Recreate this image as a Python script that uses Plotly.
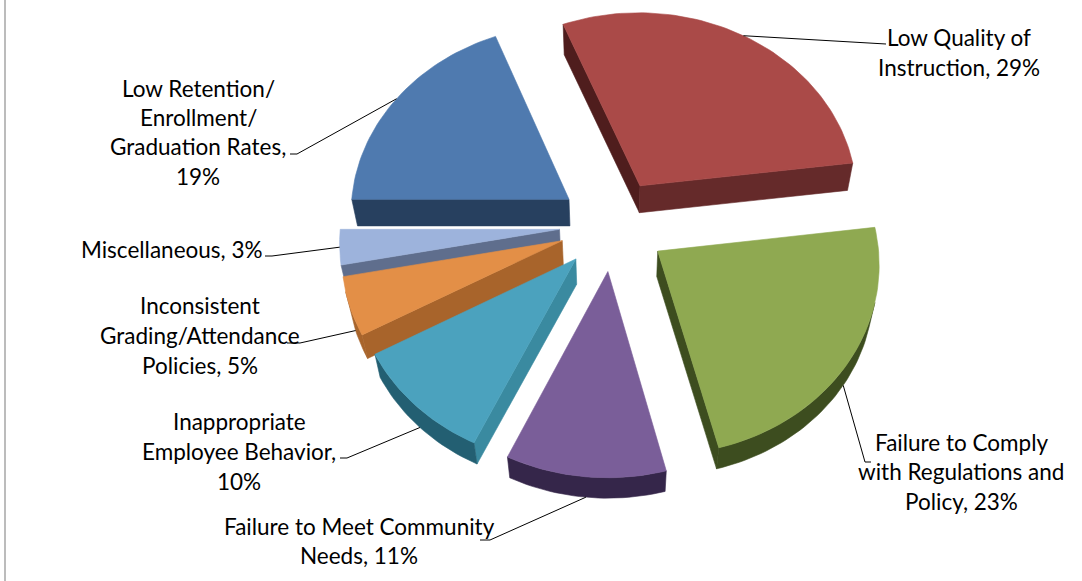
import math
import plotly.graph_objects as go

# Chart data
categories = ["Low Quality of Instruction", "Failure to Comply with Regulations and Policy",
              "Failure to Meet Community Needs", "Inappropriate Employee Behavior",
              "Inconsistent Grading/Attendance Policies", "Miscellaneous",
              "Low Retention/Enrollment/Graduation Rates"]
shares = [29, 23, 11, 10, 5, 3, 19]
label_lines = [
    ["Low Quality of", "Instruction, 29%"],
    ["Failure to Comply", "with Regulations and", "Policy, 23%"],
    ["Failure to Meet Community", "Needs, 11%"],
    ["Inappropriate", "Employee Behavior,", "10%"],
    ["Inconsistent", "Grading/Attendance", "Policies, 5%"],
    ["Miscellaneous, 3%"],
    ["Low Retention/", "Enrollment/", "Graduation Rates,", "19%"],
]

# Slice colours: top face, arc wall, wall on the slice's opening edge, wall on its closing edge
top_colors = ["#AA4A48", "#8FA951", "#7A5E99", "#4BA2BE", "#E38F47", "#9DB3DC", "#4F7AAF"]
arc_colors = ["#652A2A", "#3D4D1F", "#35264A", "#235F72", "#A8642B", "#5F6E8D", "#27405F"]
open_wall_colors = ["#4F1D1D", "#3D4D1F", "#35264A", "#3A8AA0", "#A8642B", "#5F6E8D", "#27405F"]
close_wall_colors = ["#652A2A", "#3D4D1F", "#35264A", "#235F72", "#A8642B", "#5F6E8D", "#27405F"]

# Projection of the tilted, exploded pie onto the page (pixel space)
first_angle = -21.6
explode = 0.245
center_x, center_y = 613, 225
radius_x, radius_y = 219, 188
perspective = 0.06
base_scale, base_drop = 0.978, 26

# Label centres and leader elbows in page pixels
label_x = [959, 961, 359, 239, 200, 172, 198]
label_y = [[37, 67], [442, 471, 501], [526, 555], [421, 451, 481], [305, 335, 365], [249], [88, 117, 146, 176]]
leader_elbows = [[(886, 44)], [(865, 462), (871, 462)], [(490, 540), (480, 540)],
                 [(347, 458), (340, 458)], [(300, 343), (287, 343)],
                 [(272, 256), (265, 256)], [(297, 154), (290, 154)]]
paint_order = [0, 6, 5, 4, 3, 2, 1]


def project_top(u, v):
    f = 1 / (1 + perspective * v)
    return center_x + radius_x * u * f, center_y - radius_y * v * f


def to_base(p):
    return (center_x + (p[0] - center_x) * base_scale,
            center_y + (p[1] - center_y) * base_scale + base_drop)


def polar(angle):
    a = math.radians(angle)
    return math.sin(a), math.cos(a)


def polygon(points, color):
    xs = [p[0] for p in points] + [points[0][0]]
    ys = [p[1] for p in points] + [points[0][1]]
    return go.Scatter(x=xs, y=ys, mode="lines", fill="toself", fillcolor=color,
                      line=dict(color=color, width=0.6), hoverinfo="skip", showlegend=False)


def facing_viewer(p, q):
    # The outline is walked clockwise, so a near wall has a negative signed area on screen
    pts = [p, q, to_base(q), to_base(p)]
    area = sum(pts[i][0] * pts[(i + 1) % 4][1] - pts[(i + 1) % 4][0] * pts[i][1] for i in range(4))
    return area < 0


def wall_runs(path):
    runs, run = [], []
    for p, q in zip(path, path[1:]):
        if facing_viewer(p, q):
            run = run or [p]
            run.append(q)
        elif run:
            runs.append(run)
            run = []
    if run:
        runs.append(run)
    return runs


# Angular extent of every slice, clockwise from the top
spans = []
start = first_angle
for share in shares:
    end = start + share * 3.6
    spans.append((start, end))
    start = end

fig = go.Figure()
leader_x, leader_y = [], []

for i in paint_order:
    a0, a1 = spans[i]
    mid = (a0 + a1) / 2
    off_u, off_v = polar(mid)
    off_u *= explode
    off_v *= explode
    apex = project_top(off_u, off_v)
    steps = max(6, int((a1 - a0) / 1.5))
    rim = []
    for k in range(steps + 1):
        su, sv = polar(a0 + (a1 - a0) * k / steps)
        rim.append(project_top(off_u + su, off_v + sv))

    # The outline runs apex -> rim start -> along the arc -> rim end -> apex
    for path, color in (([apex, rim[0]], open_wall_colors[i]),
                        (rim, arc_colors[i]),
                        ([rim[-1], apex], close_wall_colors[i])):
        for run in wall_runs(path):
            fig.add_trace(polygon(run + [to_base(p) for p in reversed(run)], color))
    fig.add_trace(polygon([apex] + rim, top_colors[i]))

    # Leader line leaves the rim at the slice's mid angle
    mu, mv = polar(mid)
    anchor = project_top(off_u + mu, off_v + mv)
    if off_v + mv < -0.3:
        anchor = to_base(anchor)
    path = [anchor] + leader_elbows[i]
    leader_x += [p[0] for p in path] + [None]
    leader_y += [p[1] for p in path] + [None]

fig.add_trace(go.Scatter(x=leader_x, y=leader_y, mode="lines",
                         line=dict(color="#000000", width=1),
                         hoverinfo="skip", showlegend=False))

annotations = []
for lines, x, ys in zip(label_lines, label_x, label_y):
    for line, y in zip(lines, ys):
        annotations.append(dict(x=x, y=y, text=line, showarrow=False, xanchor="center",
                                yanchor="middle", font=dict(family="Lato", size=22.5, color="#000000")))

fig.update_layout(
    width=1082, height=581, margin=dict(l=0, r=0, t=0, b=0),
    paper_bgcolor="#FFFFFF", plot_bgcolor="#FFFFFF", showlegend=False,
    xaxis=dict(range=[0, 1082], visible=False, fixedrange=True),
    yaxis=dict(range=[581, 0], visible=False, fixedrange=True),
    annotations=annotations,
    shapes=[dict(type="line", xref="x", yref="y", x0=5, x1=5, y0=0, y1=581,
                 line=dict(color="#A6A6A6", width=1.5))],
)

fig.write_html("out.html", config={"displayModeBar": False})
